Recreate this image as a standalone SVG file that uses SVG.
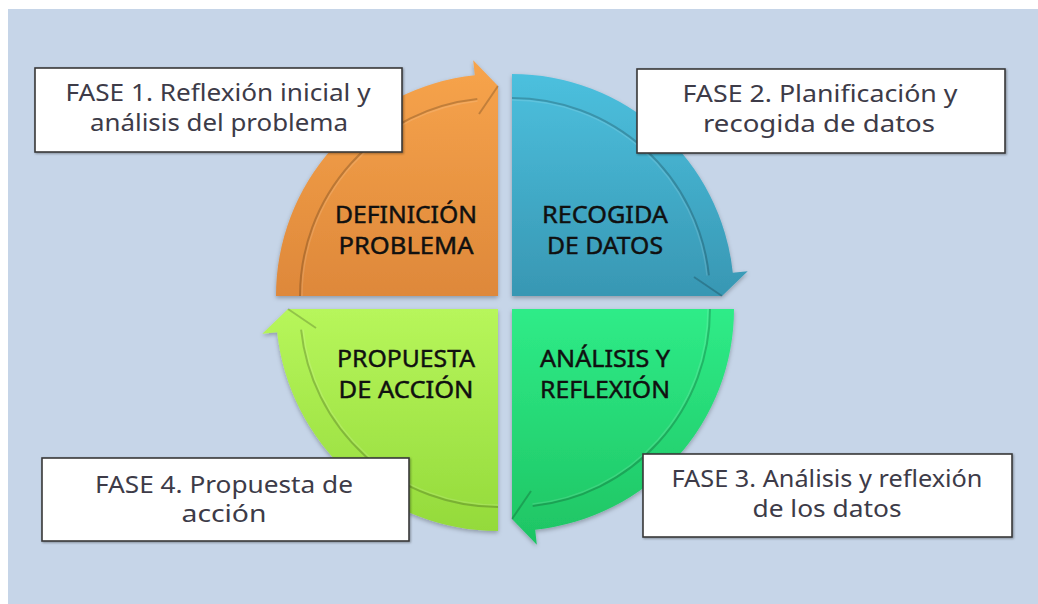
<svg xmlns="http://www.w3.org/2000/svg" width="1038" height="604" viewBox="0 0 1038 604">
<defs>
<linearGradient id="gO" gradientUnits="userSpaceOnUse" x1="0" y1="60" x2="0" y2="296"><stop offset="0" stop-color="#F7A44C"/><stop offset="1" stop-color="#DE883A"/></linearGradient>
<linearGradient id="gB" gradientUnits="userSpaceOnUse" x1="0" y1="74" x2="0" y2="296"><stop offset="0" stop-color="#4CC0DE"/><stop offset="1" stop-color="#3897B3"/></linearGradient>
<linearGradient id="gG" gradientUnits="userSpaceOnUse" x1="0" y1="309" x2="0" y2="545"><stop offset="0" stop-color="#2FEC88"/><stop offset="1" stop-color="#1EC463"/></linearGradient>
<linearGradient id="gY" gradientUnits="userSpaceOnUse" x1="0" y1="309" x2="0" y2="531"><stop offset="0" stop-color="#B7F65B"/><stop offset="1" stop-color="#94DA3B"/></linearGradient>
<filter id="sh" x="-10%" y="-10%" width="120%" height="125%"><feDropShadow dx="0" dy="2" stdDeviation="2" flood-color="#000" flood-opacity="0.28"/></filter>
<filter id="bsh" x="-5%" y="-10%" width="110%" height="125%"><feDropShadow dx="1" dy="1" stdDeviation="0.8" flood-color="#000" flood-opacity="0.35"/></filter>
</defs>
<style>
.inner{fill:none;stroke:#000;stroke-opacity:0.2;stroke-width:2}
.hl{fill:none;stroke:#fff;stroke-opacity:0.12;stroke-width:1.5}
.lbl{font-family:"Noto Sans","Liberation Sans",sans-serif;font-size:24px;fill:#101010;stroke:#101010;stroke-width:0.45;text-anchor:middle}
.box{fill:#fff;stroke:#3a3a3a;stroke-width:1.6}
.ft{font-family:"Noto Sans","Liberation Sans",sans-serif;font-size:23px;fill:#3d3b48;text-anchor:middle}
</style>
<rect x="0" y="0" width="1038" height="604" fill="#fff"/>
<rect x="8" y="9" width="1030" height="595" fill="#C6D5E8"/>

<g id="connectors"></g>

<g id="q1">
<path filter="url(#sh)" fill="url(#gO)" d="M498,296 L276,296 A222,222 0 0 1 474.8,75.2 L473.2,60.3 L498,86 Z"/>
<path class="inner" d="M300,296 A198,198 0 0 1 477.3,99.1"/>
<path class="hl" d="M302,296 A196,196 0 0 1 477.5,101"/>
<path class="inner" d="M479,114 L498,86"/>
<text class="lbl" x="406" y="223" textLength="142" lengthAdjust="spacingAndGlyphs">DEFINICIÓN</text>
<text class="lbl" x="406" y="254" textLength="135" lengthAdjust="spacingAndGlyphs">PROBLEMA</text>
</g>

<g id="q2">
<path filter="url(#sh)" fill="url(#gB)" d="M512,296 L512,74 A222,222 0 0 1 732.8,272.8 L747.7,271.2 L722,296 Z"/>
<path class="inner" d="M512,98 A198,198 0 0 1 708.9,275.3"/>
<path class="hl" d="M512,100 A196,196 0 0 1 707,275.5"/>
<path class="inner" d="M694,277 L722,296"/>
<text class="lbl" x="605" y="223" textLength="126" lengthAdjust="spacingAndGlyphs">RECOGIDA</text>
<text class="lbl" x="605" y="254" textLength="116" lengthAdjust="spacingAndGlyphs">DE DATOS</text>
</g>

<g id="q3">
<path filter="url(#sh)" fill="url(#gG)" d="M512,309 L734,309 A222,222 0 0 1 535.2,529.8 L536.8,544.7 L512,519 Z"/>
<path class="inner" d="M710,309 A198,198 0 0 1 532.7,505.9"/>
<path class="hl" d="M708,309 A196,196 0 0 1 532.5,504"/>
<path class="inner" d="M531,491 L512,519"/>
<text class="lbl" x="605" y="367" textLength="130" lengthAdjust="spacingAndGlyphs">ANÁLISIS Y</text>
<text class="lbl" x="605" y="398" textLength="130" lengthAdjust="spacingAndGlyphs">REFLEXIÓN</text>
</g>

<g id="q4">
<path filter="url(#sh)" fill="url(#gY)" d="M498,309 L498,531 A222,222 0 0 1 277.2,332.2 L262.3,333.8 L288,309 Z"/>
<path class="inner" d="M498,507 A198,198 0 0 1 301.1,329.7"/>
<path class="hl" d="M498,505 A196,196 0 0 1 303,329.5"/>
<path class="inner" d="M316,328 L288,309"/>
<text class="lbl" x="406" y="367" textLength="138" lengthAdjust="spacingAndGlyphs">PROPUESTA</text>
<text class="lbl" x="406" y="398" textLength="135" lengthAdjust="spacingAndGlyphs">DE ACCIÓN</text>
</g>

<g id="fase1">
<rect class="box" filter="url(#bsh)" x="35" y="68" width="367" height="84"/>
<text class="ft" x="218" y="101" textLength="305" lengthAdjust="spacingAndGlyphs">FASE 1. Reflexión inicial y</text>
<text class="ft" x="219" y="131" textLength="258" lengthAdjust="spacingAndGlyphs">análisis del problema</text>
</g>

<g id="fase2">
<rect class="box" filter="url(#bsh)" x="637" y="69" width="368" height="84"/>
<text class="ft" x="820" y="102" textLength="275" lengthAdjust="spacingAndGlyphs">FASE 2. Planificación y</text>
<text class="ft" x="819" y="132" textLength="232" lengthAdjust="spacingAndGlyphs">recogida de datos</text>
</g>

<g id="fase3">
<rect class="box" filter="url(#bsh)" x="643" y="454" width="369" height="83"/>
<text class="ft" x="827" y="487" textLength="311" lengthAdjust="spacingAndGlyphs">FASE 3. Análisis y reflexión</text>
<text class="ft" x="827" y="517" textLength="149" lengthAdjust="spacingAndGlyphs">de los datos</text>
</g>

<g id="fase4">
<rect class="box" filter="url(#bsh)" x="42" y="458" width="367" height="83"/>
<text class="ft" x="224" y="493" textLength="258" lengthAdjust="spacingAndGlyphs">FASE 4. Propuesta de</text>
<text class="ft" x="224" y="522" textLength="85" lengthAdjust="spacingAndGlyphs">acción</text>
</g>
</svg>
